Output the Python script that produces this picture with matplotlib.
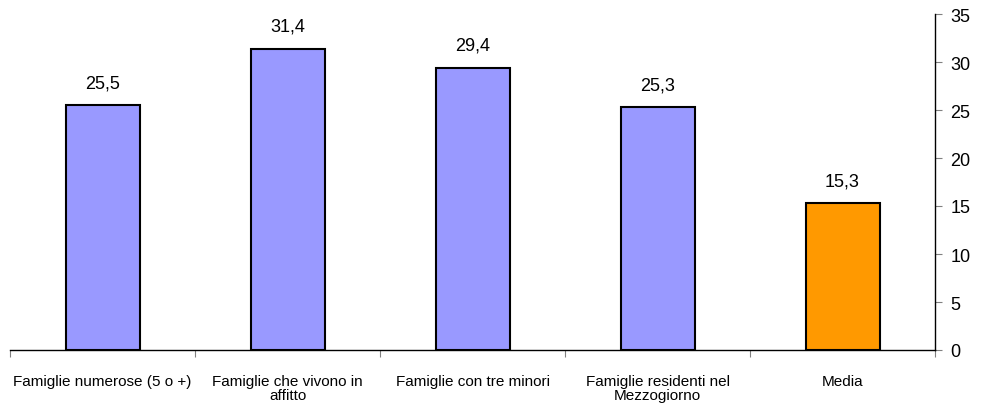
import matplotlib.pyplot as plt

categorie = ["Famiglie numerose (5 o +)", "Famiglie che vivono in\naffitto",
             "Famiglie con tre minori", "Famiglie residenti nel\nMezzogiorno", "Media"]
valori = [25.5, 31.4, 29.4, 25.3, 15.3]
colori = ["#9999ff", "#9999ff", "#9999ff", "#9999ff", "#ff9900"]

plt.rcParams['font.family'] = ['Liberation Sans', 'DejaVu Sans']

fig = plt.figure(figsize=(9.83, 4.06), dpi=100)
ax = fig.add_axes([10/983, 55/406, 925/983, 336/406])

pos = range(len(valori))
ax.bar(pos, valori, width=0.4, color=colori, edgecolor='black', linewidth=1.5)
for x, v in zip(pos, valori):
    ax.annotate(f"{v:.1f}".replace('.', ','), (x, v), xytext=(0, 10),
                textcoords='offset points', ha='center', va='bottom', fontsize=13)

ax.set_xlim(-0.5, len(valori) - 0.5)
ax.set_ylim(0, 35)
ax.yaxis.tick_right()
ax.set_yticks(range(0, 36, 5))
ax.tick_params(axis='y', direction='out', length=5, color='#808080', labelsize=13, pad=6)

# tacche tra le categorie, etichette al centro
ax.set_xticks([i - 0.5 for i in range(len(valori) + 1)])
ax.set_xticklabels([])
ax.set_xticks(list(pos), minor=True)
ax.set_xticklabels(categorie, minor=True, fontsize=11, linespacing=1.05)
ax.tick_params(axis='x', which='major', direction='out', length=5, color='#808080')
ax.tick_params(axis='x', which='minor', length=0, pad=17)

for s in ['top', 'left']:
    ax.spines[s].set_visible(False)
ax.spines['right'].set_linewidth(1)
ax.spines['bottom'].set_linewidth(1)

fig.savefig("out.png", dpi=100)
